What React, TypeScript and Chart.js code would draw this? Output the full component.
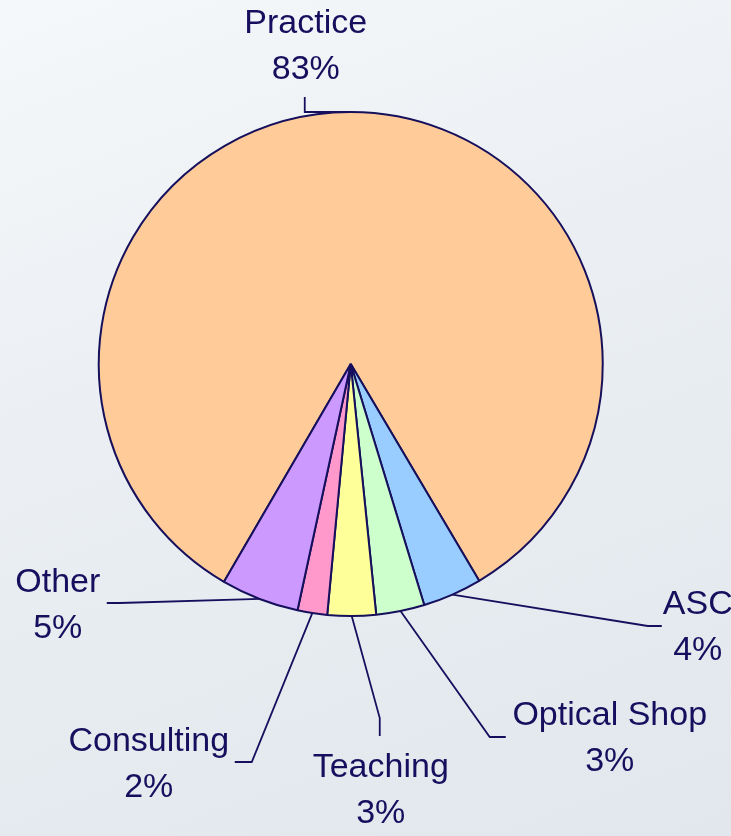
import React, { useEffect, useRef } from "react";
import { Chart, registerables } from "chart.js";

Chart.register(...registerables);

const categories = ["Practice", "ASC", "Optical Shop", "Teaching", "Consulting", "Other"];
const values = [83.1, 3.8, 3.1, 3.1, 1.9, 5.0];
const percentLabels = ["83%", "4%", "3%", "3%", "2%", "5%"];
const sliceColors = ["#ffcc99", "#99ccff", "#ccffcc", "#ffff99", "#ff99cc", "#cc99ff"];

// label layout, offsets relative to pie centre: text centre x, first line y, elbow, end
const labelLayout = [
  { tx: -45, ty: -340, elbow: [-46, -252], end: [-46, -267] },
  { tx: 347, ty: 241, elbow: [297, 262], end: [311, 262] },
  { tx: 259, ty: 352, elbow: [139, 373], end: [155, 373] },
  { tx: 30, ty: 404, elbow: [29, 354], end: [29, 372] },
  { tx: -202, ty: 378, elbow: [-99, 398], end: [-116, 398] },
  { tx: -293, ty: 219, elbow: [-231, 239], end: [-244, 239] },
];

const INK = "#170f5e";

const labelPlugin = {
  id: "leaderLabels",
  afterDatasetsDraw(chart: any) {
    const ctx = chart.ctx;
    const meta = chart.getDatasetMeta(0);
    ctx.save();
    ctx.strokeStyle = INK;
    ctx.lineWidth = 1.8;
    ctx.fillStyle = INK;
    ctx.font = '34px "Liberation Sans", Arial, sans-serif';
    ctx.textAlign = "center";
    ctx.textBaseline = "middle";
    meta.data.forEach((arc: any, i: number) => {
      const p = arc.getProps(["x", "y", "startAngle", "endAngle", "outerRadius"], true);
      const mid = (p.startAngle + p.endAngle) / 2;
      const ex = p.x + Math.cos(mid) * p.outerRadius;
      const ey = p.y + Math.sin(mid) * p.outerRadius;
      const L = labelLayout[i];
      ctx.beginPath();
      ctx.moveTo(ex, ey);
      ctx.lineTo(p.x + L.elbow[0], p.y + L.elbow[1]);
      ctx.lineTo(p.x + L.end[0], p.y + L.end[1]);
      ctx.stroke();
      ctx.fillText(categories[i], p.x + L.tx, p.y + L.ty);
      ctx.fillText(percentLabels[i], p.x + L.tx, p.y + L.ty + 46);
    });
    ctx.restore();
  },
};

export default function App() {
  const ref = useRef<HTMLCanvasElement>(null);
  useEffect(() => {
    if (!ref.current) return;
    const chart = new Chart(ref.current, {
      type: "pie",
      data: {
        labels: categories,
        datasets: [
          {
            data: values,
            backgroundColor: sliceColors,
            borderColor: "#150f5c",
            borderWidth: 2,
          },
        ],
      },
      options: {
        responsive: false,
        animation: false,
        devicePixelRatio: 1,
        rotation: 210.2,
        events: [],
        layout: { padding: { left: 97.75, right: 127.25, top: 111, bottom: 219 } },
        plugins: { legend: { display: false }, tooltip: { enabled: false } },
      },
      plugins: [labelPlugin],
    });
    return () => chart.destroy();
  }, []);
  return (
    <div
      style={{
        position: "fixed",
        left: 0,
        top: 0,
        width: 731,
        height: 836,
        background: "linear-gradient(160deg, #f5f8fa 0%, #ebeff3 40%, #e2e7ed 100%)",
      }}
    >
      <canvas ref={ref} width={731} height={836} style={{ display: "block" }} />
    </div>
  );
}
